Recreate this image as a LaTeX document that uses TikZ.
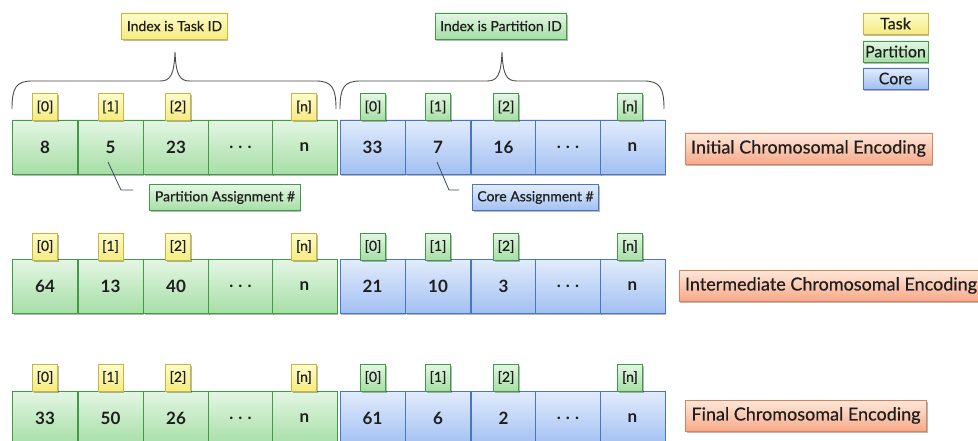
\documentclass[tikz,border=0pt]{standalone}
\usepackage{fontspec}
\setmainfont{Lato}
\newfontfamily\medfont{Lato}[FakeBold=0.45]
\usetikzlibrary{shadows}

\definecolor{gTop}{HTML}{E4F6E4}
\definecolor{gBot}{HTML}{A6DEA6}
\definecolor{gLine}{HTML}{3F9C45}
\definecolor{bTop}{HTML}{E2ECFC}
\definecolor{bBot}{HTML}{A2C0F2}
\definecolor{bLine}{HTML}{4577C6}
\definecolor{yTop}{HTML}{FDFBCB}
\definecolor{yBot}{HTML}{F5EC7E}
\definecolor{yLine}{HTML}{C6B63E}
\definecolor{oTop}{HTML}{FEE8DA}
\definecolor{oBot}{HTML}{F7A98A}
\definecolor{oLine}{HTML}{D3845F}
\definecolor{leader}{HTML}{3E4C5C}
\definecolor{braceC}{HTML}{4A4A4A}
\definecolor{ink}{HTML}{1E1E1E}

\tikzset{
  shade/.style={drop shadow={shadow xshift=1.2pt,shadow yshift=-1.6pt,opacity=0.28,fill=black}},
  cellg/.style={rectangle,draw=gLine,line width=0.8pt,top color=gTop,bottom color=gBot,
    minimum width=65pt,minimum height=54pt,inner sep=0pt,shade,text=ink,
    font=\fontsize{17}{20}\selectfont\bfseries},
  cellb/.style={cellg,draw=bLine,top color=bTop,bottom color=bBot},
  tagy/.style={rectangle,draw=yLine,line width=0.8pt,top color=yTop,bottom color=yBot,
    minimum width=25pt,minimum height=27pt,inner sep=1pt,shade,text=ink,
    font=\medfont\fontsize{14}{16}\selectfont},
  tagg/.style={tagy,draw=gLine,top color=gTop,bottom color=gBot},
  labely/.style={tagy,minimum height=26pt,inner xsep=5pt,font=\medfont\fontsize{14}{16}\selectfont},
  labelg/.style={labely,draw=gLine,top color=gTop,bottom color=gBot},
  labelb/.style={labely,draw=bLine,top color=bTop,bottom color=bBot},
  legy/.style={labely,minimum width=65pt,minimum height=21pt,inner sep=0pt,font=\medfont\fontsize{16}{18}\selectfont},
  legg/.style={legy,draw=gLine,top color=gTop,bottom color=gBot},
  legb/.style={legy,draw=bLine,top color=bTop,bottom color=bBot},
  rowlabel/.style={rectangle,draw=oLine,line width=0.8pt,top color=oTop,bottom color=oBot,
    minimum height=31pt,inner xsep=6pt,shade,text=ink,font=\medfont\fontsize{18}{20}\selectfont},
  bracepath/.style={draw=braceC,line width=0.9pt},
  leaderline/.style={draw=leader,line width=0.8pt},
}

\begin{document}
\begin{tikzpicture}[x=1pt,y=-1pt]
\useasboundingbox (0,0) rectangle (978,441);

% legend
\node[legy] (legT) at (895.5,23.5) {Task};
\node[legg] (legP) at (895.5,51.5) {Partition};
\node[legb] (legC) at (895.5,78.5) {Core};

% index descriptions and braces
\node[labely] (idxT) at (174.5,26) {Index is Task ID};
\node[labelg] (idxP) at (501,26) {Index is Partition ID};

\draw[bracepath] (12,109) .. controls (12,88) and (16,81) .. (32,81)
  -- (160,81) .. controls (170,81) and (174,76) .. (175,52)
  .. controls (176,76) and (180,81) .. (190,81)
  -- (316,81) .. controls (332,81) and (336,88) .. (336,109);
\draw[bracepath] (340,109) .. controls (340,88) and (344,81) .. (360,81)
  -- (487,81) .. controls (497,81) and (501,76) .. (502,52)
  .. controls (503,76) and (507,81) .. (517,81)
  -- (644,81) .. controls (660,81) and (664,88) .. (664,109);

% three chromosome rows
\foreach \r/\yc/\ty/\a/\b/\c/\d/\e/\f in {1/147/107/8/5/23/33/7/16, 2/286.5/246.5/64/13/40/21/10/3, 3/418/377.5/33/50/26/61/6/2}{
  \node[cellg] (g\r0) at (45,\yc) {\a};
  \node[cellg] (g\r1) at (110.5,\yc) {\b};
  \node[cellg] (g\r2) at (176,\yc) {\c};
  \node[cellg] (g\r3) at (240.5,\yc) {.\hspace{0.3em}.\hspace{0.3em}.};
  \node[cellg] (g\r4) at (304.5,\yc) {n};
  \node[cellb] (b\r0) at (372.5,\yc) {\d};
  \node[cellb] (b\r1) at (438,\yc) {\e};
  \node[cellb] (b\r2) at (503.5,\yc) {\f};
  \node[cellb] (b\r3) at (568,\yc) {.\hspace{0.3em}.\hspace{0.3em}.};
  \node[cellb] (b\r4) at (632.5,\yc) {n};
  \node[tagy] (tg\r0) at (45,\ty) {[0]};
  \node[tagy] (tg\r1) at (110.5,\ty) {[1]};
  \node[tagy] (tg\r2) at (178,\ty) {[2]};
  \node[tagy] (tg\r4) at (304,\ty) {[n]};
  \node[tagg] (tb\r0) at (373,\ty) {[0]};
  \node[tagg] (tb\r1) at (438,\ty) {[1]};
  \node[tagg] (tb\r2) at (506,\ty) {[2]};
  \node[tagg] (tb\r4) at (630,\ty) {[n]};
}

% row captions
\node[rowlabel] (encI) at (808.5,148.5) {Initial Chromosomal Encoding};
\node[rowlabel] (encM) at (831,285.5) {Intermediate Chromosomal Encoding};
\node[rowlabel] (encF) at (806,415.5) {Final Chromosomal Encoding};

% assignment callouts
\node[labelg] (pa) at (225,197.5) {Partition Assignment \#};
\node[labelb] (ca) at (535.5,197.5) {Core Assignment \#};
\coordinate (pS) at (108,162);
\coordinate (pK) at (121,190);
\coordinate (pE) at (133,190);
\coordinate (cS) at (437,162);
\coordinate (cK) at (449,190);
\coordinate (cE) at (459,190);
\draw[leaderline] (pS) -- (pK) -- (pE);
\draw[leaderline] (cS) -- (cK) -- (cE);
\end{tikzpicture}
\end{document}
